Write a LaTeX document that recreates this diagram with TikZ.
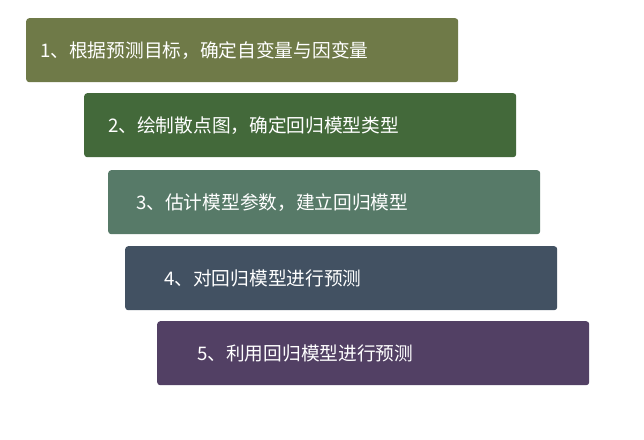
\documentclass[tikz,border=0pt]{standalone}
\usepackage{fontspec}
\newfontfamily\cjk{Noto Sans CJK SC}
\definecolor{barA}{RGB}{111,122,72}
\definecolor{barB}{RGB}{67,105,58}
\definecolor{barC}{RGB}{87,122,104}
\definecolor{barD}{RGB}{66,81,98}
\definecolor{barE}{RGB}{82,64,100}

\begin{document}
\begin{tikzpicture}[x=1pt, y=-1pt,
	bar/.style={rectangle, rounded corners=3pt, minimum width=432pt,
		minimum height=64pt, anchor=north west, inner sep=0pt},
	bartext/.style={anchor=west, text=white, inner sep=0pt,
		font=\cjk\fontsize{18.7}{22}\selectfont}]
	\useasboundingbox (0,0) rectangle (644,439);
	\foreach \n/\x/\y/\off/\col/\txt in {
		1/26/18/14/barA/{1、根据预测目标，确定自变量与因变量},
		2/84/93/24/barB/{2、绘制散点图，确定回归模型类型},
		3/108/170/28/barC/{3、估计模型参数，建立回归模型},
		4/125/246/39/barD/{4、对回归模型进行预测},
		5/157/321/40/barE/{5、利用回归模型进行预测}}
	{
		\node[bar, fill=\col] (b\n) at (\x,\y) {};
		\node[bartext] (t\n) at ([xshift=\off pt]b\n.west) {\txt};
	}
\end{tikzpicture}
\end{document}
